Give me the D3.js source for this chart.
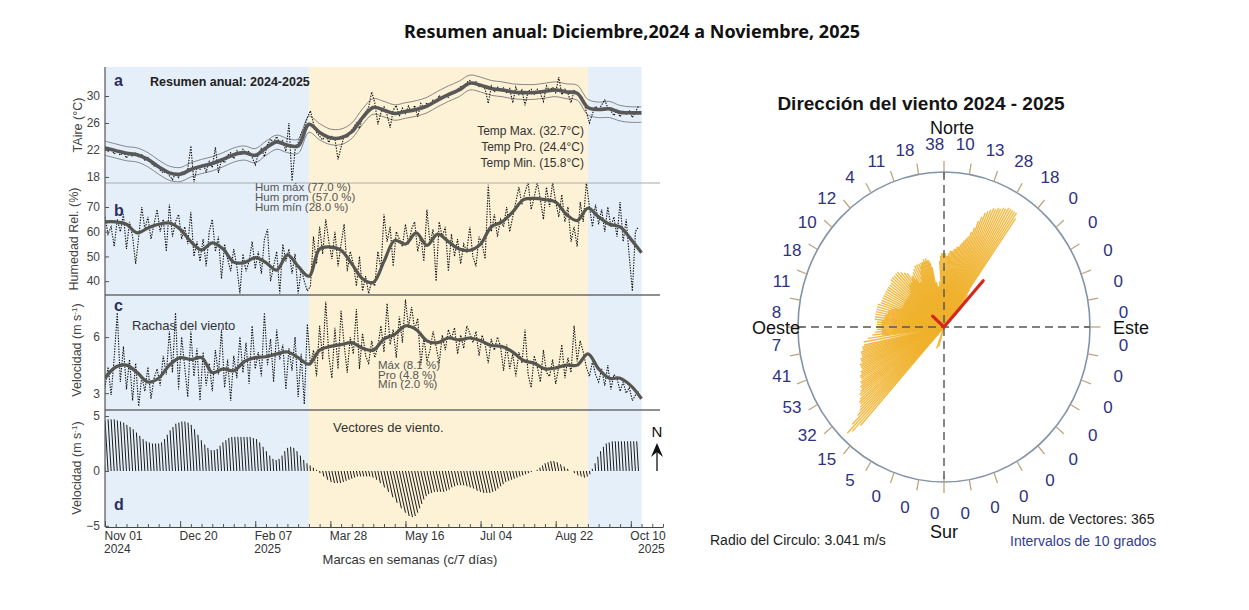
<!DOCTYPE html>
<html>
<head>
<meta charset="utf-8">
<script src="https://cdn.jsdelivr.net/npm/d3@7"></script>
<style>
  body { margin: 0; background: #fff; }
  svg text { font-family: "Liberation Sans", Arial, sans-serif; }
</style>
</head>
<body>
<svg id="chart" width="1249" height="610"></svg>
<script>
// ---------------- data ----------------
const startDate = "2024-11-01";   // first day of the series
const axisEnd = "2025-10-31";

const seasonStart = ["2024-11-01", "2025-03-14", "2025-09-12"];
const seasonEnd   = ["2025-03-14", "2025-09-12", "2025-10-17"];
const seasonKind  = ["seca", "lluviosa", "seca"];

// smoothed weekly series (every 7 days from startDate)
const tempSmooth = [22.3, 21.9, 21.5, 21.3, 20.6, 19.5, 18.6, 18.4, 19.1, 19.6, 20.0, 20.6, 21.3, 21.6, 21.2, 22.3, 23.2, 22.7, 22.6, 25.8, 24.6, 23.8, 23.8, 24.7, 26.8, 28.3, 27.9, 27.4, 27.7, 28.0, 28.5, 29.4, 30.2, 30.9, 31.9, 31.6, 31.1, 30.9, 30.6, 30.5, 30.5, 30.7, 30.9, 30.6, 30.4, 28.3, 28.0, 28.1, 27.6, 27.5, 27.5];
const tempHi = [23.3, 22.9, 22.5, 22.3, 21.6, 20.5, 19.6, 19.4, 20.1, 20.6, 21.0, 21.6, 22.3, 22.6, 22.2, 23.3, 24.2, 23.7, 23.6, 27.0, 25.9, 25.1, 25.1, 26.0, 28.1, 29.6, 29.2, 28.7, 29.0, 29.3, 29.8, 30.7, 31.5, 32.2, 33.1, 32.8, 32.3, 32.1, 31.8, 31.7, 31.7, 31.9, 32.1, 31.8, 31.6, 29.5, 29.1, 29.2, 28.6, 28.4, 28.4];
const tempLo = [21.2, 20.8, 20.4, 20.2, 19.5, 18.4, 17.5, 17.3, 18.0, 18.5, 18.9, 19.5, 20.2, 20.5, 20.1, 21.2, 22.1, 21.6, 21.5, 24.6, 23.5, 22.8, 22.8, 23.7, 25.8, 27.3, 26.9, 26.4, 26.7, 27.0, 27.5, 28.4, 29.2, 29.9, 30.9, 30.6, 30.1, 29.9, 29.6, 29.5, 29.5, 29.7, 29.9, 29.6, 29.4, 27.2, 26.8, 26.8, 26.3, 26.1, 26.1];
const humSmooth = [64, 64, 63, 59.5, 61.5, 63, 63.5, 61, 56, 52.6, 55.5, 53, 47.7, 47.5, 49.5, 47.5, 44.5, 50.6, 46, 42, 53, 53.8, 52.5, 47, 41, 39.5, 48, 56.5, 55, 59.5, 54.5, 59, 56, 53, 52.5, 55, 62, 64, 68, 73, 73.5, 73, 72, 67, 64.5, 69.5, 66, 63, 62, 57, 51.5];
const gustSmooth = [3.8, 4.4, 4.5, 4.1, 3.6, 3.8, 4.5, 4.9, 4.8, 4.9, 4.1, 4.3, 4.2, 4.7, 4.9, 4.95, 5.1, 5.2, 4.9, 4.55, 5.3, 5.5, 5.6, 5.7, 5.4, 5.3, 5.9, 6.15, 6.6, 6.4, 5.8, 5.7, 5.95, 5.85, 5.95, 5.8, 5.55, 5.5, 5.2, 4.75, 4.6, 4.3, 4.35, 4.5, 4.5, 5.1, 4.3, 3.8, 3.8, 3.4, 2.7];

// daily-ish series (every 2 days from startDate)
const tempDaily = [22.5, 21.8, 22.2, 21.4, 21.9, 21.2, 21.7, 20.8, 21.5, 21.0, 21.6,
  20.9, 21.3, 20.4, 20.9, 20.1, 19.6, 19.9, 19.0, 18.6, 18.9,
  18.2, 17.6, 18.5, 17.9, 18.8, 18.3, 19.2, 22.6, 17.2, 19.4,
  19.1, 19.9, 18.8, 20.3, 19.4, 22.4, 18.6, 20.6, 20.1, 21.2,
  21.6, 20.7, 21.9, 21.3, 22.1, 21.5, 21.8, 20.9, 19.8, 21.4,
  22.2, 21.0, 22.8, 23.6, 23.1, 24.0, 22.9, 23.4, 21.8, 26.0,
  17.4, 22.0, 23.1, 24.5, 25.3, 26.8, 27.8, 25.9, 24.6, 24.0,
  23.5, 24.2, 23.1, 24.0, 23.6, 20.6, 22.4, 24.1, 23.8, 24.6,
  25.3, 26.0, 25.2, 26.8, 27.6, 28.4, 30.6, 29.0, 25.8, 27.5,
  28.4, 27.2, 25.3, 27.9, 28.6, 27.0, 28.2, 27.4, 28.5, 27.6,
  28.6, 26.9, 28.9, 28.2, 29.0, 28.6, 29.4, 29.0, 30.1, 29.5,
  30.2, 29.8, 30.6, 30.4, 31.0, 31.4, 31.2, 32.0, 32.3, 31.8,
  32.1, 31.4, 31.6, 31.0, 28.9, 31.5, 30.6, 31.3, 30.8, 31.2,
  30.5, 31.1, 29.0, 31.3, 30.2, 30.9, 28.6, 30.7, 31.0, 30.3,
  31.0, 30.4, 29.2, 31.5, 30.8, 31.3, 30.5, 32.8, 30.2, 31.0,
  30.4, 29.0, 30.8, 30.3, 30.1, 29.6, 27.6, 26.0, 27.4, 28.5,
  27.9, 28.7, 29.4, 28.2, 27.8, 27.1, 27.9, 26.9, 27.7, 27.2,
  27.9, 26.8, 27.6, 28.5];
const humDaily = [66, 59, 62, 54, 65, 60, 67, 53, 64, 58, 47,
  58, 70, 61, 66, 57, 63, 69, 60, 65, 52,
  71, 58, 64, 67, 57, 62, 55, 68, 50, 56,
  48, 57, 46, 60, 65, 52, 58, 41, 55, 49,
  44, 53, 46, 35, 51, 44, 48, 56, 45, 52,
  43, 57, 61, 40, 46, 52, 35, 55, 48, 53,
  43, 51, 35, 45, 40, 36, 38, 58, 47, 62,
  51, 65, 56, 49, 60, 46, 55, 63, 44, 52,
  47, 38, 50, 36, 42, 35, 40, 38, 52, 45,
  67, 56, 62, 46, 60, 57, 54, 63, 55, 61,
  64, 52, 58, 48, 69, 55, 61, 40, 64, 58,
  62, 44, 59, 50, 57, 47, 55, 52, 62, 50,
  46, 58, 55, 49, 79, 60, 67, 58, 65, 62,
  70, 60, 66, 72, 78, 71, 76, 80, 69, 74,
  80, 73, 65, 78, 70, 80, 72, 66, 75, 64,
  70, 56, 62, 54, 72, 64, 80, 70, 62, 71,
  63, 69, 60, 70, 62, 66, 58, 72, 56, 65,
  50, 36, 60, 62];
const gustDaily = [3.3, 4.4, 2.9, 4.9, 7.3, 3.6, 5.5, 3.2, 4.8, 2.6, 4.6,
  2.3, 3.9, 3.1, 4.4, 2.7, 3.8, 4.3, 3.4, 5.0, 4.0,
  6.3, 4.1, 7.3, 3.2, 6.0, 4.4, 2.8, 6.3, 3.9, 5.4,
  2.6, 5.2, 3.4, 4.6, 3.1, 5.3, 4.0, 6.4, 3.3, 4.8,
  2.6, 5.0, 3.8, 6.0, 4.1, 5.7, 3.5, 6.6, 4.3, 5.2,
  3.9, 7.3, 4.5, 5.9, 3.6, 6.4, 4.8, 5.6, 3.2, 5.4,
  4.2, 6.0, 2.8, 5.1, 2.4, 6.7, 4.5, 5.3, 3.9, 6.6,
  4.8, 7.9, 5.0, 3.8, 6.5, 4.3, 7.4, 5.6, 4.1, 6.0,
  5.1, 7.5, 4.3, 6.2, 5.0, 4.6, 5.8, 4.9, 5.5, 6.6,
  5.2, 7.8, 5.6, 6.4, 4.9, 7.1, 5.7, 8.0, 6.5, 7.6,
  6.4, 7.0, 4.5, 6.0, 4.7, 5.3, 6.3, 5.5, 4.6, 6.1,
  5.3, 6.4, 5.9, 6.5, 5.1, 6.1, 5.4, 6.6, 6.2, 5.7,
  6.3, 5.0, 6.1, 5.6, 4.6, 5.9, 5.3, 6.0, 5.5, 4.2,
  5.6, 4.3, 5.1, 3.9, 5.2, 4.6, 6.4, 4.0, 3.3, 5.0,
  4.4, 3.6, 5.3, 4.1, 3.9, 4.8, 3.5, 4.4, 5.6, 3.8,
  4.9, 4.1, 6.6, 4.7, 5.8, 5.2, 4.4, 3.9, 4.7, 4.0,
  3.6, 4.3, 3.4, 4.5, 3.2, 4.0, 3.8, 3.1, 3.6, 3.0,
  3.3, 2.6, 2.9, 3.1];

// wind vector components (m/s), every 2 days
const vecV = [4.6, 4.6, 4.7, 4.7, 4.7, 4.6, 4.5, 4.4, 4.2, 4.0, 3.8, 3.5, 3.2, 2.9, 2.7, 2.6, 2.5, 2.5, 2.5, 2.6,
  2.9, 3.3, 3.7, 4.0, 4.3, 4.4, 4.5, 4.5, 4.4, 4.2, 3.8, 3.3, 2.8, 2.4, 2.1, 1.9, 1.9, 2.0, 2.3, 2.6,
  2.8, 3.0, 3.1, 3.1, 3.1, 3.1, 3.1, 3.1, 3.1, 3.0, 2.9, 2.6, 2.2, 1.8, 1.4, 1.1, 1.0, 1.1, 1.4, 1.8,
  2.1, 2.2, 2.1, 1.8, 1.4, 1.0, 0.7, 0.5, 0.3, 0.1, -0.2, -0.5, -0.8, -1.0, -1.1, -1.1, -1.1, -1.0, -0.9, -0.8,
  -0.7, -0.6, -0.5, -0.5, -0.5, -0.5, -0.5, -0.6, -0.8, -1.1, -1.5, -1.9, -2.4, -2.9, -3.4, -3.8, -4.1, -4.2, -4.1, -3.8,
  -3.4, -3.0, -2.6, -2.3, -2.1, -2.0, -1.9, -1.9, -1.9, -1.9, -1.8, -1.7, -1.5, -1.4, -1.3, -1.3, -1.3, -1.4, -1.5, -1.6,
  -1.8, -1.9, -2.0, -2.0, -2.0, -1.9, -1.8, -1.6, -1.4, -1.2, -1.0, -0.9, -0.8, -0.7, -0.6, -0.5, -0.4, -0.3, -0.2, -0.1,
  0.0, 0.1, 0.3, 0.5, 0.7, 0.8, 0.9, 0.9, 0.8, 0.6, 0.4, 0.2, 0.0, -0.2, -0.4, -0.5, -0.6, -0.5, -0.3, 0.2,
  0.7, 1.3, 1.8, 2.2, 2.5, 2.6, 2.7, 2.7, 2.7, 2.7, 2.7, 2.7, 2.7, 2.7, 2.7];
const vecU = [-0.28, -0.28, -0.28, -0.28, -0.28, -0.28, -0.27, -0.26, -0.25, -0.24, -0.23, -0.21, -0.19, -0.17, -0.16, -0.16, -0.15, -0.15, -0.15, -0.16,
  -0.17, -0.2, -0.22, -0.24, -0.26, -0.26, -0.27, -0.27, -0.26, -0.25, -0.23, -0.2, -0.17, -0.14, -0.13, -0.11, -0.11, -0.12, -0.14, -0.16,
  -0.17, -0.18, -0.19, -0.19, -0.19, -0.19, -0.19, -0.19, -0.19, -0.18, -0.17, -0.16, -0.13, -0.11, -0.08, -0.07, -0.06, -0.07, -0.08, -0.11,
  -0.13, -0.13, -0.13, -0.11, -0.08, -0.06, -0.04, -0.03, -0.02, -0.01,
  0.04, 0.11, 0.18, 0.22, 0.24, 0.24, 0.24, 0.22, 0.2, 0.18, 0.15, 0.13, 0.11, 0.11, 0.11, 0.11, 0.11, 0.13, 0.18, 0.24,
  0.33, 0.42, 0.53, 0.64, 0.75, 0.84, 0.9, 0.92, 0.9, 0.84, 0.75, 0.66, 0.57, 0.51, 0.46, 0.44, 0.42, 0.42, 0.42, 0.42,
  0.4, 0.37, 0.33, 0.31, 0.29, 0.29, 0.29, 0.31, 0.33, 0.35, 0.4, 0.42, 0.44, 0.44, 0.44, 0.42, 0.4, 0.35, 0.31, 0.26,
  0.22, 0.2, 0.18, 0.15, 0.13, 0.11, 0.09, 0.07, 0.04, 0.02,
  0, -0.02, -0.06, -0.1, -0.14, -0.16, -0.18, -0.18, -0.16, -0.12, -0.08, -0.04, 0, 0.04, 0.08, 0.1, 0.12, 0.1, 0.06, -0.02,
  -0.05, -0.08, -0.11, -0.13, -0.15, -0.16, -0.16, -0.16, -0.16, -0.16, -0.16, -0.16, -0.16, -0.16, -0.16];

const tempNotes = ["Temp Max. (32.7°C)", "Temp Pro. (24.4°C)", "Temp Min. (15.8°C)"];
const humNotes = ["Hum máx (77.0 %)", "Hum prom (57.0 %)", "Hum mín (28.0 %)"];
const gustNotes = ["Máx (8.1 %)", "Pro (4.8 %)", "Mín (2.0 %)"];
const yearLabelDates = ["2024-11-01", "2025-02-07", "2025-10-10"];
const yearLabels = ["2024", "2025", "2025"];

// wind rose: direction the vector points to (deg) and its speed (m/s)
const roseDir = [222, 223, 224, 225, 226, 227, 228, 229, 230, 231, 232, 233, 234, 235, 236, 237, 238, 239, 240, 241,
  242, 243, 244, 245, 246, 247, 248, 249, 250, 251, 252, 253, 254, 255, 256, 257, 258,
  260, 262, 264, 266, 268, 270, 272, 274, 276, 278, 280, 282, 284, 286, 288, 290,
  292, 294, 296, 298, 300, 302, 304, 306, 308, 310, 312, 314, 316, 318, 320, 322, 324, 326, 328, 330,
  332, 334, 336, 338, 340, 342, 344, 346, 348, 350, 352, 354,
  356, 357, 358, 359, 0, 1, 2, 3, 4,
  5, 6, 7, 8, 9, 10, 11, 12, 13, 14, 15, 16, 17, 18, 19,
  20, 21, 22, 23, 24, 25, 26, 27, 28, 29, 30, 31, 32, 33, 34, 35,
  36, 38, 40, 42, 44, 196, 200,
  263, 265, 267, 269, 271, 273, 275, 277, 279, 281, 283, 285, 287, 289,
  291, 293, 295, 297, 299, 301, 303, 305, 307, 309, 311, 313, 315, 317,
  319, 321, 323, 325, 327, 329, 331,
  333, 335, 337, 339, 341, 343, 345, 347, 349, 351, 353, 355];
const roseSpd = [2.6, 2.8, 2.9, 2.7, 2.5, 2.4, 2.35, 2.3, 2.3, 2.25, 2.2, 2.2, 2.15, 2.1, 2.1, 2.05, 2.05, 2.0, 2.0, 2.0,
  1.95, 1.95, 1.9, 1.9, 1.9, 1.9, 1.85, 1.85, 1.85, 1.8, 1.8, 1.8, 1.8, 1.75, 1.75, 1.75, 1.7,
  1.7, 1.6, 1.5, 1.45, 1.4, 1.4, 1.4, 1.4, 1.45, 1.45, 1.45, 1.45, 1.45, 1.45, 1.45, 1.4,
  1.4, 1.4, 1.4, 1.4, 1.4, 1.4, 1.4, 1.4, 1.4, 1.45, 1.45, 1.45, 1.45, 1.45, 1.4, 1.35, 1.3, 1.2, 1.1, 1.0,
  1.0, 1.1, 1.2, 1.3, 1.35, 1.4, 1.4, 1.35, 1.2, 0.9, 0.8, 0.9,
  1.3, 1.4, 1.45, 1.45, 1.45, 1.45, 1.4, 1.4, 1.45,
  1.5, 1.5, 1.5, 1.55, 1.55, 1.6, 1.6, 1.65, 1.7, 1.75, 1.8, 1.85, 1.95, 2.05, 2.2,
  2.3, 2.4, 2.45, 2.5, 2.55, 2.55, 2.6, 2.6, 2.65, 2.65, 2.7, 2.7, 2.7, 2.7, 2.7, 2.6,
  0.9, 0.8, 0.7, 0.6, 0.5, 0.4, 0.45,
  1.3, 1.3, 1.3, 1.3, 1.3, 1.3, 1.3, 1.25, 1.25, 1.25, 1.2, 1.2, 1.15, 1.1,
  1.0, 0.95, 0.95, 0.95, 0.95, 0.95, 0.95, 0.95, 0.95, 0.95, 0.95, 0.95, 1.0, 1.05,
  1.1, 1.1, 1.1, 1.15, 1.2, 1.25, 1.3,
  1.35, 1.35, 1.35, 1.35, 1.35, 1.35, 1.35, 1.3, 0.85, 0.8, 0.8, 0.85];
const roseCounts = [38, 10, 13, 28, 18, 0, 0, 0, 0, 0, 0, 0, 0, 0, 0, 0, 0, 0,
  0, 0, 0, 0, 5, 15, 32, 53, 41, 7, 8, 11, 18, 10, 12, 4, 11, 18];
const meanDir = [42, 312];
const meanSpd = [1.22, 0.32];
const circleRadius = 3.041;
const numVectors = 365;

// ---------------- page ----------------
const svg = d3.select("#chart");
const parse = d3.timeParse("%Y-%m-%d");
const day0 = parse(startDate);
const dayDate = (n) => d3.timeDay.offset(day0, n);

svg.append("text")
  .attr("x", 632).attr("y", 38)
  .attr("text-anchor", "middle")
  .style("font-family", "'Noto Sans', sans-serif")
  .style("font-size", "18px").style("font-weight", 700)
  .attr("fill", "#111")
  .text("Resumen anual: Diciembre,2024 a Noviembre, 2025");

// ================= left: time series =================
const x = d3.scaleTime().domain([day0, parse(axisEnd)]).range([105, 663]);
const left = svg.append("g");

const panels = {
  a: {top: 67, bottom: 183, domain: [17.1, 34.3], ticks: [18, 22, 26, 30]},
  b: {top: 183, bottom: 295, domain: [34.4, 79.7], ticks: [40, 50, 60, 70]},
  c: {top: 295, bottom: 410, domain: [2.1, 8.25], ticks: [3, 6]},
  d: {top: 410, bottom: 527, domain: [-5.1, 5.55], ticks: [-5, 0, 5]}
};
Object.entries(panels).forEach(([k, p]) => {
  p.y = d3.scaleLinear().domain(p.domain).range([p.bottom, p.top]);
  left.append("clipPath").attr("id", "clip-" + k)
    .append("rect").attr("x", 105).attr("y", p.top)
    .attr("width", 558).attr("height", p.bottom - p.top);
});

// season shading
const seasonColor = {seca: "#e5eff9", lluviosa: "#fdf2d6"};
left.append("g").selectAll("rect")
  .data(seasonKind)
  .join("rect")
  .attr("x", (d, i) => x(parse(seasonStart[i])))
  .attr("width", (d, i) => x(parse(seasonEnd[i])) - x(parse(seasonStart[i])))
  .attr("y", 67).attr("height", 527 - 67)
  .attr("fill", (d) => seasonColor[d]);

// helpers
const weekly = (arr) => arr.map((v, i) => ({date: dayDate(7 * i), v}));
const every2 = (arr) => arr.map((v, i) => ({date: dayDate(2 * i), v}));
const lineFor = (p, curve) => d3.line()
  .x((d) => x(d.date)).y((d) => p.y(d.v))
  .curve(curve || d3.curveLinear);
const smoothCurve = d3.curveCatmullRom.alpha(0.5);

function drawLine(k, data, stroke, width, dash, curve) {
  left.append("path")
    .datum(data)
    .attr("clip-path", `url(#clip-${k})`)
    .attr("fill", "none")
    .attr("stroke", stroke)
    .attr("stroke-width", width)
    .attr("stroke-dasharray", dash || null)
    .attr("d", lineFor(panels[k], curve));
}

// panel a
drawLine("a", weekly(tempHi), "#7a7a7a", 0.9, null, smoothCurve);
drawLine("a", weekly(tempLo), "#7a7a7a", 0.9, null, smoothCurve);
drawLine("a", every2(tempDaily), "#111", 1.1, "1.4,1.3");
drawLine("a", weekly(tempSmooth), "#585858", 3.6, null, smoothCurve);

// panel b
drawLine("b", every2(humDaily), "#111", 1.1, "1.4,1.3");
drawLine("b", weekly(humSmooth), "#565650", 3.2, null, smoothCurve);

// panel c
drawLine("c", every2(gustDaily), "#111", 1.1, "1.4,1.3");
drawLine("c", weekly(gustSmooth), "#565650", 3.2, null, smoothCurve);

// panel d: stick plot
const pd = panels.d;
const pxPerMs = pd.y(0) - pd.y(1);
left.append("g")
  .attr("clip-path", "url(#clip-d)")
  .selectAll("line")
  .data(vecV)
  .join("line")
  .attr("x1", (d, i) => x(dayDate(2 * i)))
  .attr("y1", pd.y(0))
  .attr("x2", (d, i) => x(dayDate(2 * i)) + vecU[i] * pxPerMs)
  .attr("y2", (d) => pd.y(d))
  .attr("stroke", "#1a1a1a")
  .attr("stroke-width", 1);

// separators and axes
[183, 295, 410].forEach((yy, i) => {
  left.append("line")
    .attr("x1", 105).attr("x2", 660).attr("y1", yy).attr("y2", yy)
    .attr("stroke", i === 0 ? "#aaa" : "#6a6a6a")
    .attr("stroke-width", i === 0 ? 1 : 1.4);
});
left.append("line")
  .attr("x1", 105).attr("x2", 105).attr("y1", 67).attr("y2", 527)
  .attr("stroke", "#555").attr("stroke-width", 1.2);

Object.values(panels).forEach((p) => {
  const g = left.append("g").attr("transform", "translate(105,0)")
    .call(d3.axisLeft(p.y).tickValues(p.ticks).tickFormat(d3.format("~g"))
      .tickSizeInner(-4).tickSizeOuter(0).tickPadding(5));
  g.select(".domain").remove();
  g.selectAll("line").attr("stroke", "#555");
  g.selectAll("text").attr("fill", "#444").style("font-size", "12px");
});

// x axis: weekly ticks, labels every 7 weeks
const weeks = d3.range(0, 365, 7).map(dayDate);
const majors = weeks.filter((d, i) => i % 7 === 0 && d <= parse("2025-10-10"));
const gx = left.append("g").attr("transform", "translate(0,527)")
  .call(d3.axisBottom(x).tickValues(weeks).tickSizeInner(-3).tickSizeOuter(0).tickFormat(""));
gx.select(".domain").attr("stroke", "#444").attr("stroke-width", 1.2);
gx.selectAll("line").attr("stroke", "#555");
const gx2 = left.append("g").attr("transform", "translate(0,527)")
  .call(d3.axisBottom(x).tickValues(majors).tickSizeInner(-6).tickSizeOuter(0)
    .tickPadding(4).tickFormat(d3.timeFormat("%b %d")));
gx2.select(".domain").remove();
gx2.selectAll("line").attr("stroke", "#555");
gx2.selectAll("text").attr("text-anchor", "start").attr("x", -1)
  .attr("fill", "#333").style("font-size", "12px");

left.append("g").selectAll("text")
  .data(yearLabels)
  .join("text")
  .attr("x", (d, i) => x(parse(yearLabelDates[i])) + (i === yearLabels.length - 1 ? 34 : -1))
  .attr("y", 553)
  .attr("text-anchor", (d, i) => i === yearLabels.length - 1 ? "end" : "start")
  .attr("fill", "#333").style("font-size", "12px")
  .text((d) => d);

left.append("text")
  .attr("x", 410).attr("y", 564).attr("text-anchor", "middle")
  .attr("fill", "#333").style("font-size", "13px")
  .text("Marcas en semanas (c/7 días)");

// y titles
function yTitle(txt, cxp, cyp, sup) {
  const t = left.append("text")
    .attr("transform", `translate(${cxp},${cyp}) rotate(-90)`)
    .attr("text-anchor", "middle")
    .attr("fill", "#444").style("font-size", "12.5px")
    .text(txt);
  if (sup) {
    t.append("tspan").attr("baseline-shift", "super").style("font-size", "8px").text(sup);
    t.append("tspan").text(")");
  }
}
yTitle("TAire (°C)", 82, 125);
yTitle("Humedad Rel. (%)", 78, 239);
yTitle("Velocidad (m s", 81, 350, "-1");
yTitle("Velocidad (m s", 81, 468, "-1");

// panel letters and notes
const letters = [["a", 86], ["b", 216], ["c", 311], ["d", 510]];
letters.forEach(([l, yy]) => {
  left.append("text").attr("x", 114).attr("y", yy)
    .attr("fill", "#2c2f5e").style("font-size", "16px").style("font-weight", 700)
    .text(l);
});
left.append("text").attr("x", 150).attr("y", 86)
  .attr("fill", "#222").style("font-size", "12.5px").style("font-weight", 700)
  .text("Resumen anual: 2024-2025");

tempNotes.forEach((t, i) => {
  left.append("text").attr("x", 584).attr("y", 135 + 16 * i)
    .attr("text-anchor", "end").attr("fill", "#333").style("font-size", "12px").text(t);
});
humNotes.forEach((t, i) => {
  left.append("text").attr("x", 255).attr("y", 191 + 10 * i)
    .attr("fill", "#555").style("font-size", "11.5px").text(t);
});
gustNotes.forEach((t, i) => {
  left.append("text").attr("x", 378).attr("y", 369 + 9.5 * i)
    .attr("fill", "#555").style("font-size", "11.5px").text(t);
});
left.append("text").attr("x", 132).attr("y", 330)
  .attr("fill", "#333").style("font-size", "13px").text("Rachas del viento");
left.append("text").attr("x", 333).attr("y", 432)
  .attr("fill", "#333").style("font-size", "13px").text("Vectores de viento.");

// north arrow
left.append("text").attr("x", 657).attr("y", 437).attr("text-anchor", "middle")
  .attr("fill", "#111").style("font-size", "15px").text("N");
left.append("line").attr("x1", 657).attr("x2", 657).attr("y1", 471).attr("y2", 450)
  .attr("stroke", "#111").attr("stroke-width", 1.3);
left.append("path").attr("d", "M651,457 L657,443 L663,457 L657,452 Z").attr("fill", "#111");

// ================= right: wind rose =================
const rose = svg.append("g");
const cx = 944, cy = 327, R = 155, sx = 0.942;
const rS = d3.scaleLinear().domain([0, circleRadius]).range([0, R]);
const pt = (deg, r) => {
  const a = deg * Math.PI / 180;
  return [cx + sx * r * Math.sin(a), cy - r * Math.cos(a)];
};

rose.append("text")
  .attr("x", 921).attr("y", 110).attr("text-anchor", "middle")
  .attr("fill", "#151515").style("font-size", "19px").style("font-weight", 700)
  .text("Dirección del viento 2024 - 2025");

// yellow vectors
rose.append("g").selectAll("line")
  .data(roseDir)
  .join("line")
  .attr("x1", cx).attr("y1", cy)
  .attr("x2", (d, i) => pt(d, rS(roseSpd[i]))[0])
  .attr("y2", (d, i) => pt(d, rS(roseSpd[i]))[1])
  .attr("stroke", "#efb12c")
  .attr("stroke-width", 1.4)
  .attr("stroke-opacity", 0.9);

// circle
rose.append("ellipse")
  .attr("cx", cx).attr("cy", cy).attr("rx", sx * R).attr("ry", R)
  .attr("fill", "none").attr("stroke", "#8093a8").attr("stroke-width", 1.6);

// ticks every 10 degrees
rose.append("g").selectAll("line")
  .data(d3.range(0, 360, 10))
  .join("line")
  .attr("x1", (d) => pt(d, d % 90 === 0 ? R - 6 : R)[0])
  .attr("y1", (d) => pt(d, d % 90 === 0 ? R - 6 : R)[1])
  .attr("x2", (d) => pt(d, R + 11)[0])
  .attr("y2", (d) => pt(d, R + 11)[1])
  .attr("stroke", "#bba47e").attr("stroke-width", 1.3);

// dashed cross
rose.append("line").attr("x1", cx).attr("x2", cx).attr("y1", cy - R).attr("y2", cy + R)
  .attr("stroke", "#555").attr("stroke-width", 1.4).attr("stroke-dasharray", "8,5");
rose.append("line").attr("x1", cx - sx * R).attr("x2", cx + sx * R).attr("y1", cy).attr("y2", cy)
  .attr("stroke", "#555").attr("stroke-width", 1.4).attr("stroke-dasharray", "8,5");

// mean vector
meanDir.forEach((d, i) => {
  const p = pt(d, rS(meanSpd[i]));
  rose.append("line").attr("x1", cx).attr("y1", cy).attr("x2", p[0]).attr("y2", p[1])
    .attr("stroke", "#d5281d").attr("stroke-width", 3.2).attr("stroke-linecap", "round");
});

// counts per 10-degree bin
rose.append("g").selectAll("text")
  .data(roseCounts)
  .join("text")
  .attr("x", (d, i) => pt(i * 10 - 5, R + 30)[0] + 6)
  .attr("y", (d, i) => pt(i * 10 - 5, R + 30)[1] + 2)
  .attr("text-anchor", "middle")
  .attr("dominant-baseline", "central")
  .attr("fill", "#2e3280")
  .style("font-size", "17px")
  .text((d) => d);

// cardinal labels
const cardStyle = (t) => t.attr("fill", "#111").style("font-size", "18px");
cardStyle(rose.append("text").attr("x", cx + 8).attr("y", cy - R - 44)
  .attr("text-anchor", "middle").attr("dominant-baseline", "central").text("Norte"));
cardStyle(rose.append("text").attr("x", cx).attr("y", cy + R + 50)
  .attr("text-anchor", "middle").attr("dominant-baseline", "central").text("Sur"));
cardStyle(rose.append("text").attr("x", cx - sx * R + 2).attr("y", cy + 1)
  .attr("text-anchor", "end").attr("dominant-baseline", "central").text("Oeste"));
cardStyle(rose.append("text").attr("x", cx + sx * R + 23).attr("y", cy + 1)
  .attr("text-anchor", "start").attr("dominant-baseline", "central").text("Este"));

rose.append("text").attr("x", 710).attr("y", 545)
  .attr("fill", "#222").style("font-size", "14px")
  .text(`Radio del Circulo: ${circleRadius} m/s`);
rose.append("text").attr("x", 1012).attr("y", 524)
  .attr("fill", "#222").style("font-size", "14px")
  .text(`Num. de Vectores: ${numVectors}`);
rose.append("text").attr("x", 1010).attr("y", 546)
  .attr("fill", "#343c8c").style("font-size", "14px")
  .text("Intervalos de 10 grados");
</script>
</body>
</html>
